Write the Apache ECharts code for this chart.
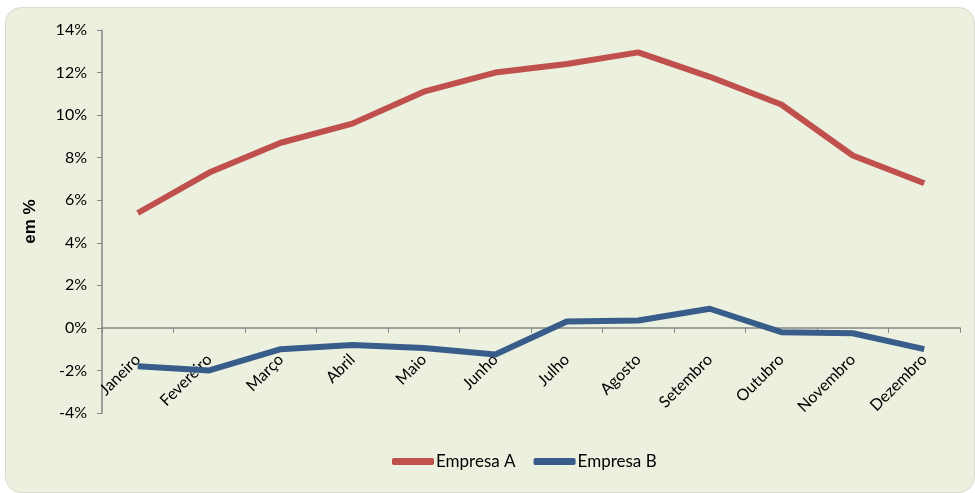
<!DOCTYPE html>
<html>
<head>
<meta charset="utf-8">
<script src="https://cdn.jsdelivr.net/npm/echarts@6/dist/echarts.min.js"></script>
<style>
  html, body { margin: 0; padding: 0; background: #ffffff; }
  #card {
    position: absolute; left: 5px; top: 7px; width: 968px; height: 484px;
    background: #ebf0df; border: 1px solid #d8dccd; border-radius: 16px;
  }
  #chart { position: absolute; left: 0; top: 0; width: 975px; height: 493px; }
</style>
</head>
<body>
<div id="card"></div>
<div id="chart"></div>
<script>
const months = ['Janeiro', 'Fevereiro', 'Março', 'Abril', 'Maio', 'Junho',
    'Julho', 'Agosto', 'Setembro', 'Outubro', 'Novembro', 'Dezembro'];
const empresaA = [5.4, 7.3, 8.7, 9.6, 11.1, 12.0, 12.4, 12.95, 11.8, 10.5, 8.1, 6.8];
const empresaB = [-1.8, -2.0, -1.0, -0.8, -0.95, -1.25, 0.3, 0.35, 0.9, -0.2, -0.25, -1.0];

const font = 'Lato, "Open Sans", sans-serif';
const axisColor = '#868686';

const chart = echarts.init(document.getElementById('chart'));

const option = {
    backgroundColor: 'transparent',
    grid: { left: 102, right: 15, top: 30, bottom: 80, containLabel: false },
    legend: {
        bottom: 18,
        left: 387,
        icon: 'roundRect',
        itemWidth: 42,
        itemHeight: 7,
        itemGap: 18,
        textStyle: { fontFamily: font, fontSize: 17, color: '#000', padding: [0, 0, 0, -3] },
        data: ['Empresa A', 'Empresa B']
    },
    xAxis: {
        type: 'category',
        data: months,
        boundaryGap: true,
        axisLine: { onZero: true, lineStyle: { color: axisColor, width: 1.5 } },
        axisTick: { show: true, length: 5, interval: 0, lineStyle: { color: axisColor } },
        axisLabel: {
            interval: 0,
            rotate: 45,
            margin: -56,
            fontFamily: font,
            fontSize: 16,
            color: '#000'
        },
        splitLine: { show: false }
    },
    yAxis: {
        type: 'value',
        min: -4,
        max: 14,
        interval: 2,
        name: 'em %',
        nameLocation: 'middle',
        nameGap: 63,
        nameTextStyle: { fontFamily: '"Liberation Sans", Arial, sans-serif', fontSize: 17, fontWeight: 'bold', color: '#000' },
        axisLine: { show: true, lineStyle: { color: axisColor, width: 1.5 } },
        axisTick: { show: true, length: 5, lineStyle: { color: axisColor } },
        axisLabel: {
            formatter: '{value}%',
            margin: 15,
            fontFamily: font,
            fontSize: 16,
            color: '#000'
        },
        splitLine: { show: false }
    },
    series: [
        {
            name: 'Empresa A',
            type: 'line',
            data: empresaA,
            symbol: 'none',
            lineStyle: { color: '#c0504d', width: 6 },
            itemStyle: { color: '#c0504d' }
        },
        {
            name: 'Empresa B',
            type: 'line',
            data: empresaB,
            symbol: 'none',
            lineStyle: { color: '#385d8a', width: 6 },
            itemStyle: { color: '#385d8a' }
        }
    ]
};

chart.setOption(option);
</script>
</body>
</html>
